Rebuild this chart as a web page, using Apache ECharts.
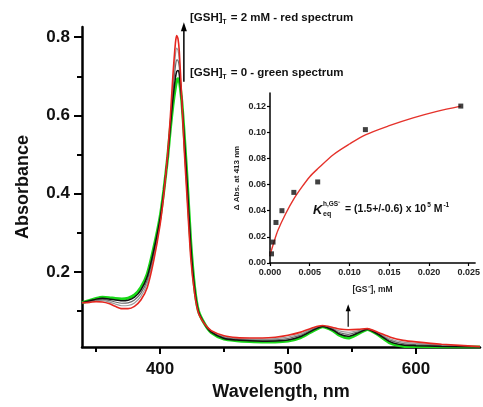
<!DOCTYPE html>
<html><head><meta charset="utf-8">
<script src="https://cdn.jsdelivr.net/npm/echarts@6/dist/echarts.min.js"></script>
<style>html,body{margin:0;padding:0;background:#fff}#c{width:483px;height:407px}</style>
</head><body><div id="c"></div>
<script>
// Wavelength grid (nm)
const wl = [339,345,350,355,360,365,370,375,380,385,390,395,400,403,406,408,410,412,413,414,415,417,419,421,424,427,430,435,440,450,460,470,480,490,500,510,520,527,535,540,547,555,562,570,580,590,600,620,650];
// [GSH]T = 0 (green)
const absGreen = [0.121,0.127,0.132,0.135,0.134,0.132,0.131,0.133,0.141,0.160,0.195,0.260,0.340,0.410,0.495,0.565,0.625,0.672,0.688,0.694,0.690,0.635,0.545,0.445,0.275,0.160,0.100,0.066,0.045,0.028,0.024,0.022,0.021,0.021,0.023,0.032,0.050,0.060,0.050,0.038,0.031,0.042,0.053,0.040,0.018,0.010,0.009,0.008,0.008];
// intermediate titration spectra
const absI1 = [0.121,0.126,0.1304,0.1326,0.131,0.128,0.126,0.1276,0.1352,0.1536,0.188,0.2536,0.336,0.408,0.497,0.571,0.640,0.6956,0.712,0.7148,0.705,0.636,0.537,0.435,0.267,0.157,0.099,0.066,0.046,0.0298,0.0256,0.0238,0.023,0.0234,0.026,0.0348,0.0516,0.0606,0.0516,0.0412,0.0352,0.0442,0.0534,0.0412,0.021,0.013,0.0114,0.0094,0.0082];
const absI2 = [0.121,0.125,0.1284,0.1296,0.1273,0.123,0.1198,0.1209,0.128,0.1456,0.1793,0.2456,0.331,0.4055,0.4995,0.5785,0.6588,0.7251,0.742,0.7408,0.7238,0.6373,0.527,0.4225,0.257,0.1533,0.0978,0.066,0.0473,0.032,0.0276,0.026,0.0255,0.0264,0.0298,0.0383,0.0536,0.0614,0.0536,0.0452,0.0405,0.047,0.0539,0.0427,0.0248,0.0168,0.0144,0.0112,0.0085];
const absI3 = [0.121,0.1235,0.1264,0.1266,0.1235,0.118,0.1135,0.1141,0.1207,0.1376,0.1705,0.2376,0.326,0.403,0.502,0.586,0.6775,0.7546,0.772,0.7668,0.7425,0.6385,0.517,0.41,0.247,0.1495,0.0965,0.066,0.0485,0.0343,0.0296,0.0283,0.028,0.0294,0.0335,0.0418,0.0556,0.0621,0.0556,0.0492,0.0457,0.0497,0.0544,0.0442,0.0285,0.0205,0.0174,0.0129,0.0087];
// [GSH]T = 2 mM (red)
const absRed = [0.121,0.122,0.124,0.123,0.119,0.112,0.106,0.106,0.112,0.128,0.160,0.228,0.320,0.400,0.505,0.595,0.700,0.785,0.804,0.796,0.765,0.640,0.505,0.395,0.235,0.145,0.095,0.066,0.050,0.037,0.032,0.031,0.031,0.033,0.038,0.046,0.058,0.063,0.058,0.054,0.052,0.053,0.055,0.046,0.033,0.025,0.021,0.015,0.009];
// main axis ticks
const xMajor = [400,500,600];
const xMinor = [350,450,550];
const yMajor = [0.2,0.4,0.6,0.8];
const yMinor = [0.1,0.3,0.5,0.7];
// inset: titration data
const gsConc = [0.00019,0.00038,0.00075,0.0015,0.003,0.006,0.012,0.024];
const dAbs = [0.007,0.016,0.031,0.040,0.054,0.062,0.102,0.120];
// inset: fitted curve
const fitConc = [0,0.0005,0.001,0.002,0.003,0.004,0.005,0.006,0.008,0.010,0.012,0.015,0.018,0.021,0.024];
const fitAbs = [0.006,0.016,0.025,0.038,0.049,0.058,0.066,0.072,0.083,0.091,0.098,0.105,0.111,0.116,0.120];

const FONT = '"Liberation Sans", Arial, sans-serif';
const pair = (xs, ys) => xs.map((x, i) => [x, ys[i]]);
const chart = echarts.init(document.getElementById('c'), null, {renderer: 'canvas'});

function specSeries(data, color, width, z) {
  return {type: 'line', xAxisIndex: 0, yAxisIndex: 0, data: pair(wl, data), smooth: 0.22,
    showSymbol: false, symbol: 'none', lineStyle: {color: color, width: width}, z: z, silent: true, animation: false};
}

const option = {
  animation: false,
  grid: [
    {left: 82, right: 3, top: 27, bottom: 60},
    {left: 270, right: 0, top: 93, bottom: 144}
  ],
  xAxis: [
    {type: 'value', gridIndex: 0, min: 339, max: 650,
     axisLine: {show: true, lineStyle: {color: '#000', width: 2.5}},
     axisTick: {show: true, inside: false, length: 7, lineStyle: {color: '#000', width: 2}, customValues: xMajor},
     axisLabel: {customValues: xMajor, margin: 14, color: '#111', fontFamily: FONT, fontWeight: 'bold', fontSize: 17},
     splitLine: {show: false},
     name: 'Wavelength, nm', nameLocation: 'middle', nameGap: 33,
     nameTextStyle: {color: '#111', fontFamily: FONT, fontWeight: 'bold', fontSize: 18}},
    {type: 'value', gridIndex: 0, min: 339, max: 650, position: 'bottom',
     axisLine: {show: false},
     axisTick: {show: true, length: 5, lineStyle: {color: '#000', width: 2}, customValues: xMinor},
     axisLabel: {show: false}, splitLine: {show: false}},
    {type: 'value', gridIndex: 1, min: 0, max: 0.0258, interval: 0.005,
     axisLine: {show: true, onZero: false, lineStyle: {color: '#000', width: 1.5}},
     axisTick: {show: true, length: 3, lineStyle: {color: '#000', width: 1.2}},
     axisLabel: {margin: 5, color: '#222', fontFamily: FONT, fontWeight: 'bold', fontSize: 9,
       formatter: v => v.toFixed(3)},
     splitLine: {show: false},
     name: '[GS\u207B], mM', nameLocation: 'middle', nameGap: 22,
     nameTextStyle: {color: '#222', fontFamily: FONT, fontWeight: 'bold', fontSize: 8.5}}
  ],
  yAxis: [
    {type: 'value', gridIndex: 0, min: 0.008, max: 0.826,
     axisLine: {show: true, lineStyle: {color: '#000', width: 2.5}},
     axisTick: {show: true, length: 8, lineStyle: {color: '#000', width: 2}, customValues: yMajor},
     axisLabel: {customValues: yMajor, margin: 12, color: '#111', fontFamily: FONT, fontWeight: 'bold', fontSize: 17,
       formatter: v => v.toFixed(1)},
     splitLine: {show: false},
     name: 'Absorbance', nameLocation: 'middle', nameGap: 50,
     nameTextStyle: {color: '#111', fontFamily: FONT, fontWeight: 'bold', fontSize: 18}},
    {type: 'value', gridIndex: 0, min: 0.008, max: 0.826, position: 'left',
     axisLine: {show: false},
     axisTick: {show: true, length: 5, lineStyle: {color: '#000', width: 2}, customValues: yMinor},
     axisLabel: {show: false}, splitLine: {show: false}},
    {type: 'value', gridIndex: 1, min: 0, max: 0.13, interval: 0.02,
     axisLine: {show: true, onZero: false, lineStyle: {color: '#000', width: 1.5}},
     axisTick: {show: true, length: 3, lineStyle: {color: '#000', width: 1.2}},
     axisLabel: {margin: 4, color: '#222', fontFamily: FONT, fontWeight: 'bold', fontSize: 9,
       formatter: v => v.toFixed(2), showMaxLabel: false},
     splitLine: {show: false},
     name: '\u0394 Abs. at 413 nm', nameLocation: 'middle', nameGap: 29,
     nameTextStyle: {color: '#222', fontFamily: FONT, fontWeight: 'bold', fontSize: 8}}
  ],
  series: [
    specSeries(absGreen, '#18d818', 3, 2),
    specSeries(absI3, '#9a9a9a', 1.2, 3),
    specSeries(absI2, '#6a6a6a', 1.2, 4),
    specSeries(absI1, '#111111', 1.5, 5),
    specSeries(absRed, '#e5261f', 1.6, 6),
    {type: 'line', xAxisIndex: 2, yAxisIndex: 2, data: pair(fitConc, fitAbs), smooth: 0.3,
     showSymbol: false, symbol: 'none', lineStyle: {color: '#e5322b', width: 1.4}, z: 3},
    {type: 'scatter', xAxisIndex: 2, yAxisIndex: 2, data: pair(gsConc, dAbs), symbol: 'rect', symbolSize: 5,
     itemStyle: {color: '#111'}, z: 4}
  ]
};
chart.setOption(option);

// annotations
const p = (x, y) => chart.convertToPixel({xAxisIndex: 0, yAxisIndex: 0}, [x, y]);
const a1b = p(418.6, 0.686), a1t = p(418.6, 0.838);
const a2b = p(547, 0.060), a2t = p(547, 0.117);
function arrow(b, t, w, hw, hl) {
  return [
    {type: 'line', shape: {x1: b[0], y1: b[1], x2: t[0], y2: t[1] + hl - 1}, style: {stroke: '#000', lineWidth: w}, z: 20},
    {type: 'polygon', shape: {points: [[t[0], t[1]], [t[0] - hw, t[1] + hl], [t[0] + hw, t[1] + hl]]}, style: {fill: '#000'}, z: 20}
  ];
}
const richLabel = (x, y, rest) => ({type: 'text', x: x, y: y, z: 21,
  style: {text: '{a|[GSH]}{s|T}{a| ' + rest + '}', textVerticalAlign: 'middle',
    rich: {a: {fill: '#111', font: 'bold 11.5px ' + FONT, lineHeight: 16, verticalAlign: 'middle'},
           s: {fill: '#111', font: 'bold 6.5px ' + FONT, lineHeight: 16, verticalAlign: 'bottom', padding: [0, 1, 0, 0]}}}});
const boldTxt = (x, y, text, size) => ({type: 'text', x: x, y: y, z: 21,
  style: {text: text, fill: '#111', font: 'bold ' + size + 'px ' + FONT, textVerticalAlign: 'middle'}});

const g = [].concat(
  arrow(a1b, a1t, 1.5, 3, 9),
  arrow(a2b, a2t, 1.2, 2.5, 7),
  [
    richLabel(190, 18, '= 2 mM - red spectrum'),
    richLabel(190, 73, '= 0 - green spectrum'),
    {type: 'text', x: 313, y: 210, z: 21, style: {text: 'K', fill: '#111', font: 'italic bold 13px ' + FONT, textVerticalAlign: 'middle'}},
    boldTxt(323, 204, 'h,GS\u207B', 6.5), boldTxt(323, 214, 'eq', 7),
    {type: 'text', x: 345, y: 209, z: 21,
     style: {text: '{a|= (1.5+/-0.6) x 10}{s|5}{a| M}{s|-1}', textVerticalAlign: 'middle',
       rich: {a: {fill: '#111', font: 'bold 10.5px ' + FONT, lineHeight: 14, verticalAlign: 'middle'},
              s: {fill: '#111', font: 'bold 6.5px ' + FONT, lineHeight: 14, verticalAlign: 'top', padding: [0, 0, 0, 1]}}}}
  ]
);
chart.setOption({graphic: {elements: g}});
</script></body></html>
